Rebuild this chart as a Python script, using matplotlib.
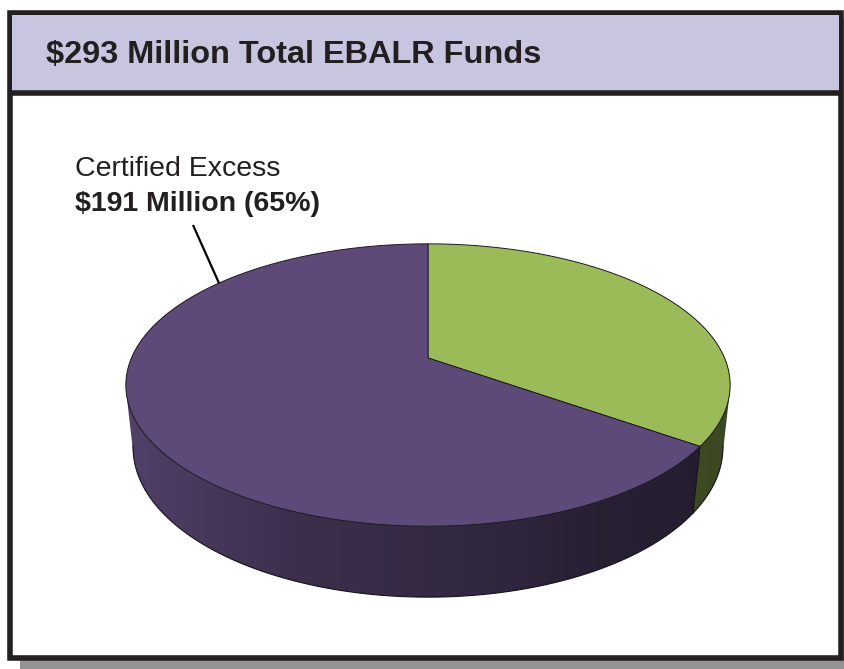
import numpy as np
import matplotlib
matplotlib.use("Agg")
import matplotlib.pyplot as plt
from matplotlib.patches import Polygon, Rectangle
from matplotlib import font_manager
from matplotlib.colors import to_rgb

# ---------------- data ----------------
title = "$293 Million Total EBALR Funds"
categories = ["Remaining", "Certified Excess"]
values = [102, 191]                      # $ millions
top_colors = ["#9BBB59", "#5E4A79"]
label_line1 = "Certified Excess"
label_line2 = "$191 Million (65%)"

# ---------------- fonts ----------------
avail = {f.name for f in font_manager.fontManager.ttflist}
font = "Liberation Sans" if "Liberation Sans" in avail else "DejaVu Sans"

W, H = 844, 669
fig = plt.figure(figsize=(W / 100, H / 100), dpi=100)
ax = fig.add_axes([0, 0, 1, 1])

ink = "#231F20"

# ---------------- frame ----------------
ax.add_patch(Rectangle((20, 19), 840, 660, facecolor="#939393", edgecolor="none", zorder=0))
ax.add_patch(Rectangle((10, 12.5), 830.5, 645, facecolor="white", edgecolor=ink,
                       linewidth=4.0, zorder=1))
ax.add_patch(Rectangle((12, 14.5), 826.5, 77.5, facecolor="#C8C5E1", edgecolor="none", zorder=2))
ax.plot([10, 840.5], [92.5, 92.5], color=ink, linewidth=4.0, zorder=3, solid_capstyle="butt")

t = ax.text(46, 62.5, title, fontsize=23, fontweight="bold", family=font, color=ink,
            ha="left", va="baseline", parse_math=False, zorder=4)
ax.set_xlim(0, W)
ax.set_ylim(H, 0)
fig.canvas.draw()
r = fig.canvas.get_renderer()
wpx = t.get_window_extent(r).width
t.set_fontsize(23 * 496.0 / wpx)

# ---------------- 3D pie ----------------
cx, cy = 428.0, 358.0
S = 1376.0
elev = np.deg2rad(27.3)
dist = 4.64
depth_h = 0.239
se, ce = np.sin(elev), np.cos(elev)


def proj(x, y, z):
    d = y * ce - z * se + dist
    return cx + S * x / d, cy - S * (y * se + z * ce) / d


def convex_hull(points):
    pts = sorted(set(map(tuple, np.round(points, 4))))
    if len(pts) <= 2:
        return np.array(pts)

    def cross(o, a, b):
        return (a[0] - o[0]) * (b[1] - o[1]) - (a[1] - o[1]) * (b[0] - o[0])

    lower, upper = [], []
    for p in pts:
        while len(lower) >= 2 and cross(lower[-2], lower[-1], p) <= 0:
            lower.pop()
        lower.append(p)
    for p in reversed(pts):
        while len(upper) >= 2 and cross(upper[-2], upper[-1], p) <= 0:
            upper.pop()
        upper.append(p)
    return np.array(lower[:-1] + upper[:-1])


vals = np.array(values, dtype=float)
fr = vals / vals.sum()
start = 90.0
bounds = start - 360.0 * np.concatenate([[0], np.cumsum(fr)])

# side shading: horizontal gradient across the screen
shade_x = np.array([126, 300, 450, 600, 735])
shade_f = np.array([0.86, 0.63, 0.55, 0.43, 0.38])
gx = np.linspace(115, 745, 400)
gf = np.interp(gx, shade_x, shade_f)

for i in range(len(vals)):
    th = np.deg2rad(np.linspace(bounds[i], bounds[i + 1], 1500))
    th = th[np.sin(th) <= 0.3]
    if len(th) < 2:
        continue
    tx, ty = proj(np.cos(th), np.sin(th), 0)
    bx, by = proj(np.cos(th), np.sin(th), -depth_h)
    hull = convex_hull(np.column_stack([np.concatenate([tx, bx]), np.concatenate([ty, by])]))
    clip = Polygon(hull, closed=True, transform=ax.transData)
    base = np.array(to_rgb(top_colors[i]))
    img = np.clip(gf[None, :, None] * base[None, None, :], 0, 1)
    im = ax.imshow(img, extent=[gx[0], gx[-1], 615, 300], aspect="auto",
                   interpolation="bilinear", zorder=5)
    im.set_clip_path(clip)

# bottom outline of the visible side
tb = np.deg2rad(np.linspace(190, 350, 300))
bx, by = proj(np.cos(tb), np.sin(tb), -depth_h)
ax.plot(bx, by, color="#15121A", linewidth=0.8, zorder=6)

# vertical edge on the side at slice boundaries in front
for bdeg in bounds[:-1]:
    a = np.deg2rad(bdeg)
    if np.sin(a) < -0.24:
        x0, y0 = proj(np.cos(a), np.sin(a), 0)
        x1, y1 = proj(np.cos(a), np.sin(a), -depth_h)
        ax.plot([x0, x1], [y0, y1], color="#15121A", linewidth=0.7, zorder=6)

# top faces
for i in range(len(vals)):
    th = np.deg2rad(np.linspace(bounds[i], bounds[i + 1], 400))
    px, py = proj(np.cos(th), np.sin(th), 0)
    pts = np.column_stack([np.concatenate([[cx], px]), np.concatenate([[cy], py])])
    ax.add_patch(Polygon(pts, closed=True, facecolor=top_colors[i], edgecolor="#1E1A22",
                         linewidth=0.7, zorder=7))

# ---------------- label ----------------
ax.text(75, 176, label_line1, fontsize=20.5, family=font, color=ink,
        ha="left", va="baseline", parse_math=False, zorder=8)
ax.text(75, 211, label_line2, fontsize=20.5, family=font, fontweight="bold",
        color=ink, ha="left", va="baseline", parse_math=False, zorder=8)
anc = np.deg2rad(142)
ex, ey = proj(np.cos(anc), np.sin(anc), 0)
ax.plot([193, ex], [225, ey], color="black", linewidth=1.6, zorder=8,
        solid_capstyle="butt")

ax.set_xlim(0, W)
ax.set_ylim(H, 0)
ax.axis("off")
fig.savefig("out.png", dpi=100)
